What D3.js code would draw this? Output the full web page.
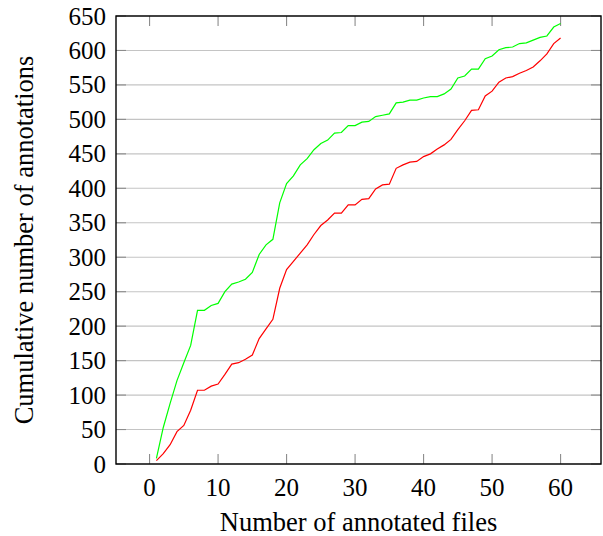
<!DOCTYPE html>
<html><head><meta charset="utf-8">
<script src="https://cdn.jsdelivr.net/npm/d3@7"></script>
<style>body{margin:0;background:#fff}svg{display:block}</style>
</head><body>
<svg id="c" width="603" height="536"></svg>
<script>
const files = [1,2,3,4,5,6,7,8,9,10,11,12,13,14,15,16,17,18,19,20,21,22,23,24,25,26,27,28,29,30,31,32,33,34,35,36,37,38,39,40,41,42,43,44,45,46,47,48,49,50,51,52,53,54,55,56,57,58,59,60];
const greenSeries = [8,53,88,121,147,172,223,223,230,233,250,261,264,268,278,304,318,326,379,407,418,434,443,456,465,470,480,481,491,491,496,497,504,506,508,524,525,528,528,531,533,533,537,544,560,563,573,573,588,592,601,604,605,610,611,615,619,621,634,639];
const redSeries = [5,15,28,47,56,78,107,107,113,116,130,145,147,152,158,182,196,210,255,282,294,306,318,333,346,354,364,364,376,376,384,385,399,405,406,429,434,438,439,446,450,457,463,471,485,498,513,514,534,541,554,560,562,567,571,576,585,595,610,618];
const xTicks = [0,10,20,30,40,50,60];
const yTicks = [0,50,100,150,200,250,300,350,400,450,500,550,600,650];
const xTitle = "Number of annotated files";
const yTitle = "Cumulative number of annotations";

const svg = d3.select("#c");
const L = 116, R = 601, T = 16, B = 464;
const font = "'Liberation Serif','DejaVu Serif',serif";
const x = d3.scaleLinear().domain([-4.9, 65.9]).range([L, R]);
const y = d3.scaleLinear().domain([0, 650]).range([B, T]);

// grid
svg.append("g").selectAll("line").data(yTicks).join("line")
  .attr("x1", L).attr("x2", R).attr("y1", d => y(d)).attr("y2", d => y(d))
  .attr("stroke", "#c4c4c4").attr("stroke-width", 1.1);

// ticks inward
const tk = svg.append("g").attr("stroke", "#8c8c8c").attr("stroke-width", 1.1);
xTicks.forEach(d => {
  tk.append("line").attr("x1", x(d)).attr("x2", x(d)).attr("y1", B).attr("y2", B - 10);
  tk.append("line").attr("x1", x(d)).attr("x2", x(d)).attr("y1", T).attr("y2", T + 10);
});
yTicks.forEach(d => {
  tk.append("line").attr("x1", L).attr("x2", L + 10).attr("y1", y(d)).attr("y2", y(d));
  tk.append("line").attr("x1", R).attr("x2", R - 10).attr("y1", y(d)).attr("y2", y(d));
});

// lines
const line = d3.line().x((d, i) => x(files[i])).y(d => y(d));
svg.append("path").datum(greenSeries).attr("d", line).attr("fill", "none")
  .attr("stroke", "#00ff00").attr("stroke-width", 1.2);
svg.append("path").datum(redSeries).attr("d", line).attr("fill", "none")
  .attr("stroke", "#ff0000").attr("stroke-width", 1.2);

// frame
svg.append("rect").attr("x", L).attr("y", T).attr("width", R - L).attr("height", B - T)
  .attr("fill", "none").attr("stroke", "#000").attr("stroke-width", 1.4);

// tick labels
svg.append("g").selectAll("text").data(xTicks).join("text")
  .attr("x", d => x(d)).attr("y", 496).attr("text-anchor", "middle")
  .attr("font-family", font).attr("font-size", 25).text(d => d);
svg.append("g").selectAll("text").data(yTicks).join("text")
  .attr("x", 106).attr("y", d => y(d) + 8.5).attr("text-anchor", "end")
  .attr("font-family", font).attr("font-size", 25).text(d => d);

// titles
svg.append("text").attr("x", (L + R) / 2).attr("y", 531).attr("text-anchor", "middle")
  .attr("font-family", font).attr("font-size", 26.5).text(xTitle);
svg.append("text").attr("transform", `translate(33,${(T + B) / 2}) rotate(-90)`)
  .attr("text-anchor", "middle").attr("font-family", font).attr("font-size", 26.5).text(yTitle);
</script>
</body></html>
